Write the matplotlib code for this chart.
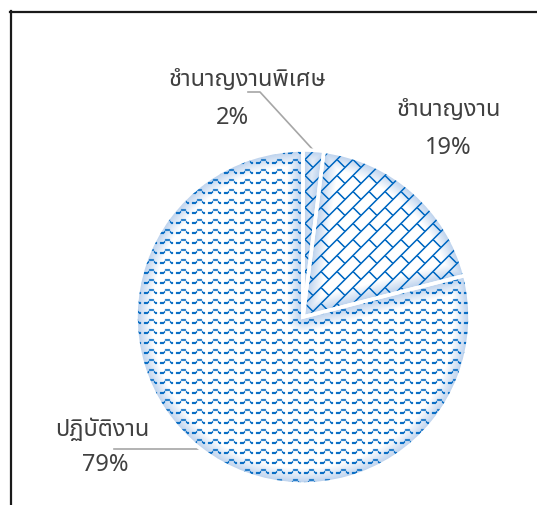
import numpy as np
import matplotlib
matplotlib.use("Agg")
import matplotlib.pyplot as plt
from matplotlib import font_manager
from matplotlib.lines import Line2D

# staff groups and their share in percent, clockwise from the top
labels = ["ชำนาญงานพิเศษ", "ชำนาญงาน", "ปฏิบัติงาน"]
shares = [2, 19, 79]

W, H = 537, 506

installed = {f.name for f in font_manager.fontManager.ttflist}
thai = next((n for n in ["Noto Sans Thai", "Noto Sans Thai Looped", "Sarabun", "Bai Jamjuree"]
             if n in installed), "Athiti")
plt.rcParams["font.family"] = [thai, "DejaVu Sans"]

fig = plt.figure(figsize=(W / 100, H / 100), dpi=100)

# pie centre and radius in pixels (y measured from the top)
cx, cy, rad = 303, 318, 167
ax = fig.add_axes([(cx - rad) / W, (H - cy - rad) / H, 2 * rad / W, 2 * rad / H])
ax.set_zorder(2)
wedges, _ = ax.pie(shares, startangle=90, counterclock=False, radius=1,
                   wedgeprops=dict(facecolor="none", edgecolor="white", linewidth=2.6))
ax.set_xlim(-1, 1)
ax.set_ylim(-1, 1)
ax.axis("off")
fig.canvas.draw()


def to_px(x, y):
    # data coords -> pixel coords with y from the top
    dx, dy = ax.transData.transform((x, y))
    return dx, H - dy


def fig_xy(x, y):
    return x / W, 1 - y / H


def rim(w):
    a = np.radians((w.theta1 + w.theta2) / 2)
    return to_px(np.cos(a), np.sin(a))


# pattern fill, built pixel by pixel so the texture stays crisp
ox, oy = to_px(0, 0)
rpx = to_px(1, 0)[0] - ox
rows, cols = np.mgrid[0:H, 0:W]
dx = cols + 0.5 - ox
dy = oy - (rows + 0.5)
rho = np.hypot(dx, dy)
ang = np.degrees(np.arctan2(dy, dx)) % 360


def wave(c, r):
    # separate little bumps: low dash, rise, high dash, fall, gap
    cc = c % 16
    rr = r % 10
    level = np.select([cc < 4, cc < 5, cc < 10, cc < 11, cc < 13], [3, 2, 0, 2, 3], -9)
    on = (rr >= level) & (rr < level + 2)
    return np.where(on, np.where(level == 0, 0.8, 1.0), 0.0)


def brick(c, r):
    s = (c + r) % 16
    k = (c + r) // 16
    v = (c - r + 16 * (k % 2)) % 32
    return ((s < 2) | (v < 2)).astype(float)


patterns = [brick, brick, wave]
glow = np.array([182, 206, 236], float)
white = np.array([255, 255, 255], float)
blue = np.array([10, 110, 196], float)

img = np.zeros((H, W, 4), float)
for w, pat in zip(wedges, patterns):
    t1, t2 = w.theta1, w.theta2
    a1 = (ang - t1) % 360
    a2 = (t2 - ang) % 360
    inside = (a1 <= (t2 - t1)) & (rho <= rpx + 1)
    e1 = np.where(a1 < 90, rho * np.sin(np.radians(a1)), rho)
    e2 = np.where(a2 < 90, rho * np.sin(np.radians(a2)), rho)
    d = np.minimum(np.minimum(rpx - rho, e1), e2)
    t = np.clip(d / 16, 0, 1)[..., None]
    base = glow * (1 - t) + white * t
    m = pat(cols, rows)
    # soften the pattern a touch
    m = 0.7 * m + 0.075 * (np.roll(m, 1, 0) + np.roll(m, -1, 0) + np.roll(m, 1, 1) + np.roll(m, -1, 1))
    m = np.clip(m * 1.15, 0, 1)[..., None]
    col = base * (1 - m) + blue * m
    img[inside, :3] = col[inside]
    img[inside, 3] = np.clip(rpx - rho[inside] + 0.5, 0, 1)

img[..., :3] /= 255
fig.figimage(img, xo=0, yo=0, origin="upper", zorder=1)

# labels
txt = dict(color="#404040", fontsize=17, ha="center", va="center")
name_pos = [(247, 80), (449, 110), (102, 430)]
pct_pos = [(232, 118), (448, 148), (105, 465)]
for lab, v, p, q in zip(labels, shares, name_pos, pct_pos):
    fig.text(*fig_xy(*p), lab, **txt)
    fig.text(*fig_xy(*q), f"{v}%", **txt)

# leader lines
lead = dict(color="#a6a6a6", lw=1.2, transform=fig.transFigure)
ex, ey = rim(wedges[0])
xs, ys = zip(*[fig_xy(248, 93), fig_xy(260, 93), fig_xy(ex, ey)])
fig.add_artist(Line2D(xs, ys, **lead))
bx, by = rim(wedges[2])
xs, ys = zip(*[fig_xy(114, by), fig_xy(bx, by)])
fig.add_artist(Line2D(xs, ys, **lead))

# frame around the chart area
frame = dict(color="#1a1a1a", lw=1.6, transform=fig.transFigure)
fig.add_artist(Line2D(*zip(fig_xy(10.5, 12), fig_xy(10.5, H)), **frame))
fig.add_artist(Line2D(*zip(fig_xy(10, 12.5), fig_xy(W, 12.5)), **frame))

fig.savefig("out.png", dpi=100)
